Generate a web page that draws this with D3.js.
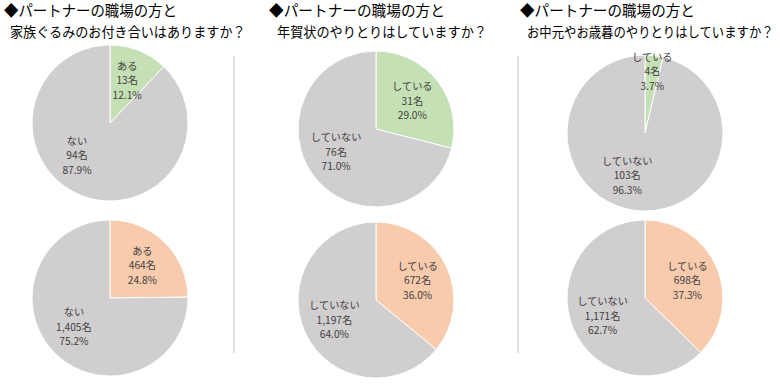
<!DOCTYPE html>
<html><head><meta charset="utf-8">
<script src="https://cdn.jsdelivr.net/npm/d3@7"></script>
<style>
html,body{margin:0;padding:0;background:#fff;}
svg{display:block;}
</style></head>
<body>
<svg id="chart" width="780" height="390"></svg>
<script>
// ---- data ----
const titleLine1 = ["◆パートナーの職場の方と", "◆パートナーの職場の方と", "◆パートナーの職場の方と"];
const titleLine2 = ["家族ぐるみのお付き合いはありますか？", "年賀状のやりとりはしていますか？", "お中元やお歳暮のやりとりはしていますか？"];
const answerLabels = [["ある", "ない"], ["している", "していない"], ["している", "していない"]];
const topCounts = [[13, 94], [31, 76], [4, 103]];
const topPercents = [[12.1, 87.9], [29.0, 71.0], [3.7, 96.3]];
const bottomCounts = [[464, 1405], [672, 1197], [698, 1171]];
const bottomPercents = [[24.8, 75.2], [36.0, 64.0], [37.3, 62.7]];

// ---- layout / style ----
const panelCx = [[110, 110], [376, 376], [645, 645]];
const panelCy = [[123, 298], [129, 300], [133, 298]];
const radius = 78;
// angular nudge (degrees) of the large-slice label, per panel [top, bottom]
const bigLabelNudge = [[24, 7], [8, 0], [16, 0]];
const title1X = [4, 269, 520], title1W = [173, 176, 175];
const title2X = [10, 277, 527], title2W = [236, 210, 247];
const separatorsX = [234, 518];
const colTop = ["#c5e0b4", "#d0cece"];
const colBottom = ["#f8cbad", "#d0cece"];
const fontJP = "'Noto Sans CJK JP','Noto Sans',sans-serif";
const labelSize = 10.2, lineGap = 14.5;

const svg = d3.select("#chart");

// titles (horizontally scaled to the reference widths)
const titles = svg.append("g").attr("font-family", fontJP).attr("fill", "#000");
function fitText(str, x, y, size, w) {
  const t = titles.append("text").attr("x", 0).attr("y", 0).attr("font-size", size).text(str);
  const nat = t.node().getComputedTextLength();
  t.attr("transform", `translate(${x},${y}) scale(${w / nat},1)`);
}
titleLine1.forEach((t, i) => {
  fitText(t, title1X[i], 16, 15, title1W[i]);
  fitText(titleLine2[i], title2X[i], 37, 14, title2W[i]);
});

// separators
svg.selectAll("line.sep").data(separatorsX).join("line")
  .attr("class", "sep")
  .attr("x1", d => d).attr("x2", d => d).attr("y1", 56).attr("y2", 353)
  .attr("stroke", "#d6d6d6").attr("stroke-width", 1.5);

const pie = d3.pie().sort(null).value(d => d.count).startAngle(0).endAngle(2 * Math.PI);
const arc = d3.arc().innerRadius(0).outerRadius(radius);
const fmtCount = d3.format(",");

function drawPie(col, row, counts, pcts, colors) {
  const data = counts.map((c, k) => ({ label: answerLabels[col][k], count: c, pct: pcts[k], color: colors[k] }));
  const g = svg.append("g").attr("transform", `translate(${panelCx[col][row]},${panelCy[col][row]})`);
  const arcs = pie(data);
  g.selectAll("path").data(arcs).join("path")
    .attr("d", arc).attr("fill", d => d.data.color)
    .attr("stroke", "#fff").attr("stroke-width", 1);
  arcs.forEach((a, k) => {
    const share = (a.endAngle - a.startAngle) / (2 * Math.PI);
    const lr = share < 0.05 ? radius * 0.8 : radius * 0.59;
    let ang = (a.startAngle + a.endAngle) / 2;
    if (k === 1) ang += bigLabelNudge[col][row] * Math.PI / 180;
    const x = lr * Math.sin(ang), y = -lr * Math.cos(ang);
    const lines = [a.data.label, fmtCount(a.data.count) + "名", a.data.pct.toFixed(1) + "%"];
    lines.forEach((s, j) => {
      g.append("text").attr("text-anchor", "middle")
        .attr("font-family", fontJP).attr("font-size", labelSize).attr("fill", "#404040")
        .attr("x", x).attr("y", y + (j - 1) * lineGap + 4).text(s);
    });
  });
}

for (let i = 0; i < 3; i++) {
  drawPie(i, 0, topCounts[i], topPercents[i], colTop);
  drawPie(i, 1, bottomCounts[i], bottomPercents[i], colBottom);
}
</script>
</body></html>
